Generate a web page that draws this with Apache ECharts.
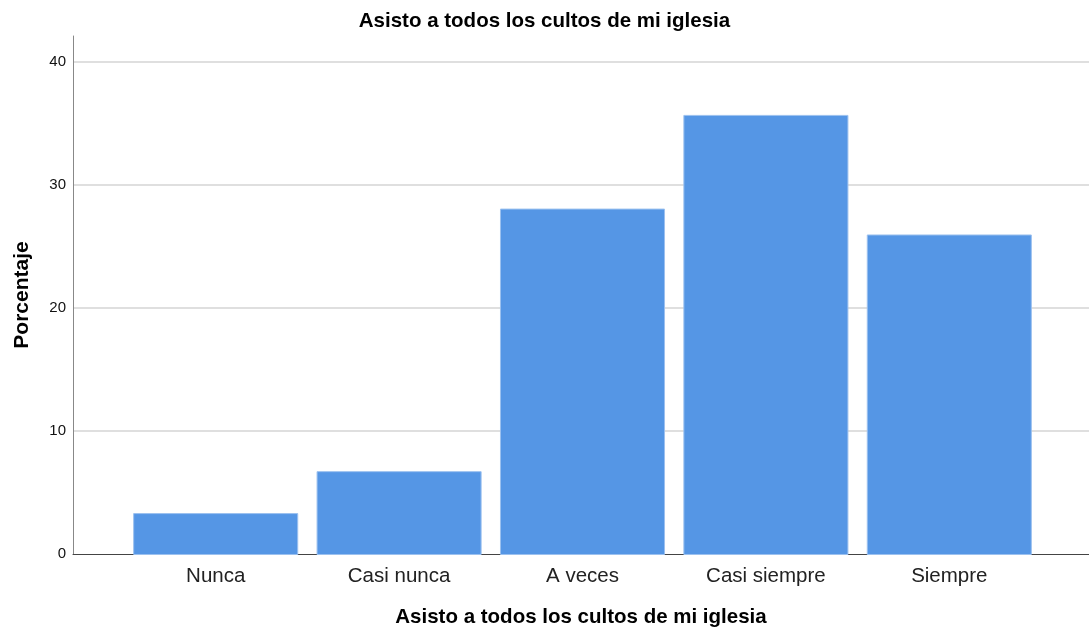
<!DOCTYPE html>
<html>
<head>
<meta charset="utf-8">
<script src="https://cdn.jsdelivr.net/npm/echarts@6/dist/echarts.min.js"></script>
<style>html,body{margin:0;padding:0;background:#fff}#c{width:1089px;height:633px}</style>
</head>
<body>
<div id="c"></div>
<script>
const categories = ['Nunca', 'Casi nunca', 'A veces', 'Casi siempre', 'Siempre'];
const percentages = [3.4, 6.8, 28.1, 35.7, 26.0];
const yTicks = [0, 10, 20, 30, 40];
const titleText = 'Asisto a todos los cultos de mi iglesia';
const xName = 'Asisto a todos los cultos de mi iglesia';
const yName = 'Porcentaje';

const FONT = '"Liberation Sans", Arial, sans-serif';
const yMax = 42.1;

const chart = echarts.init(document.getElementById('c'));
chart.setOption({
  animation: false,
  backgroundColor: '#ffffff',
  title: {
    text: titleText, left: 'center', top: 6,
    textStyle: { fontFamily: FONT, fontSize: 20.5, fontWeight: 'bold', color: '#000' }
  },
  grid: [
    { left: 73, right: 0, top: 36, bottom: 78 },
    { left: 124, right: 48, top: 36, bottom: 78 }
  ],
  xAxis: [
    {
      gridIndex: 0, type: 'value', min: 0, max: 1,
      name: xName, nameLocation: 'middle', nameGap: 53,
      nameTextStyle: { fontFamily: FONT, fontSize: 20.5, fontWeight: 'bold', color: '#000' },
      axisLine: { show: true, lineStyle: { color: '#444', width: 1 } },
      axisTick: { show: false }, axisLabel: { show: false }, splitLine: { show: false }
    },
    {
      gridIndex: 1, type: 'category', data: categories,
      axisLine: { show: false }, axisTick: { show: false },
      axisLabel: { margin: 11, fontFamily: FONT, fontSize: 20.5, color: '#222' }
    }
  ],
  yAxis: [
    {
      gridIndex: 0, type: 'value', min: 0, max: yMax, interval: 10,
      name: yName, nameLocation: 'middle', nameGap: 40,
      nameTextStyle: { fontFamily: FONT, fontSize: 21, fontWeight: 'bold', color: '#000' },
      axisLine: { show: true, lineStyle: { color: '#888', width: 1 } },
      axisTick: { show: false },
      axisLabel: {
        margin: 7, fontFamily: FONT, fontSize: 15, color: '#111', showMaxLabel: false,
        formatter: v => (yTicks.indexOf(v) >= 0 ? String(v) : '')
      },
      splitLine: { show: true, showMinLine: false, showMaxLine: false, lineStyle: { color: '#d4d4d4', width: 1.5 } }
    },
    {
      gridIndex: 1, type: 'value', min: 0, max: yMax, interval: 10,
      show: false, splitLine: { show: false }
    }
  ],
  series: [{
    type: 'bar', xAxisIndex: 1, yAxisIndex: 1,
    data: percentages, barCategoryGap: '10%',
    itemStyle: { color: '#5596E5', borderColor: '#9cc1ef', borderWidth: 1 }
  }]
});
</script>
</body>
</html>
